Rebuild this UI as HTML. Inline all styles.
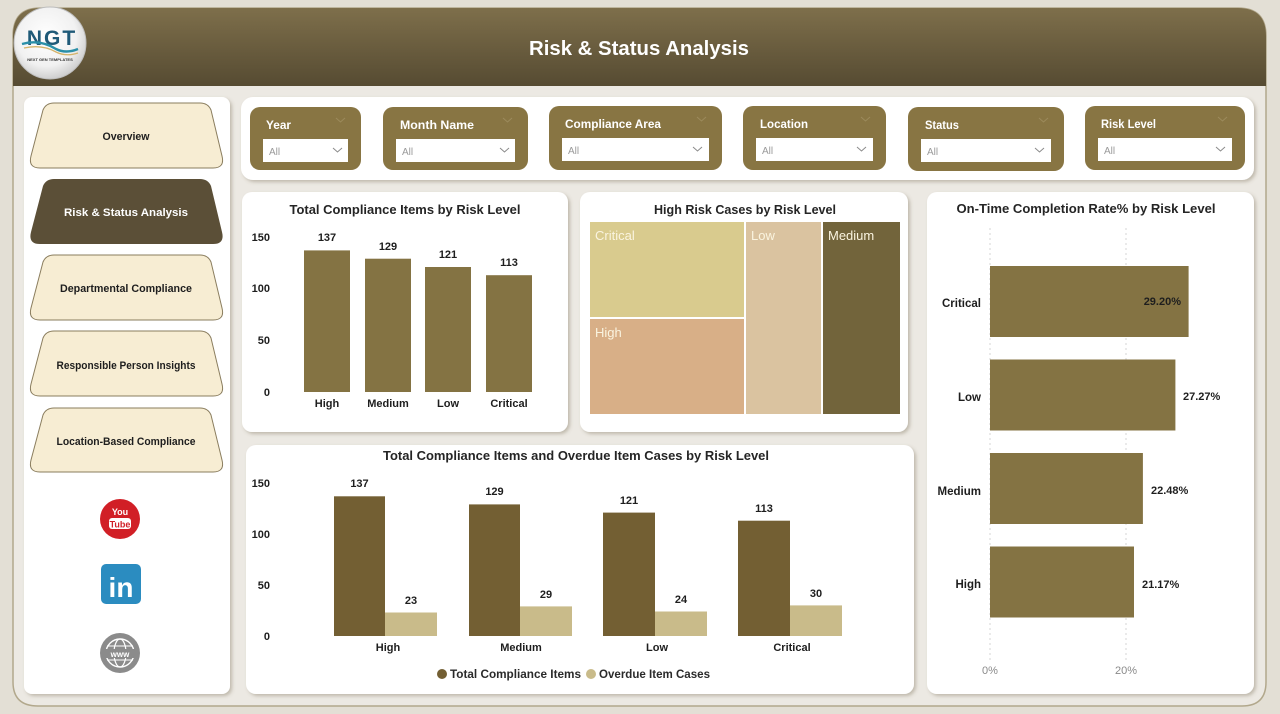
<!DOCTYPE html>
<html><head><meta charset="utf-8"><style>
html,body{margin:0;padding:0;width:1280px;height:714px;overflow:hidden;background:#e3dfd5}
svg{display:block}
text{font-family:"Liberation Sans",Arial,sans-serif}
</style></head><body>
<svg width="1280" height="714" viewBox="0 0 1280 714" xmlns="http://www.w3.org/2000/svg">
<defs>
<linearGradient id="hdr" x1="0" y1="0" x2="0" y2="1"><stop offset="0" stop-color="#7e6f4b"/><stop offset="1" stop-color="#564b32"/></linearGradient>
<radialGradient id="logo" cx="0.45" cy="0.4" r="0.6"><stop offset="0" stop-color="#ffffff"/><stop offset="0.7" stop-color="#f1f1f1"/><stop offset="1" stop-color="#cfcfcf"/></radialGradient>
<filter id="sh" x="-5%" y="-5%" width="112%" height="115%"><feDropShadow dx="2" dy="2" stdDeviation="1.8" flood-color="#6b6040" flood-opacity="0.35"/></filter>
</defs>
<rect x="0" y="0" width="1280" height="714" fill="#e3dfd5"/>
<path d="M40,8 H1238 Q1266,8 1266,36 V682 Q1266,706 1242,706 H38 Q13,706 13,682 V36 Q13,8 40,8 Z" fill="#ece9e3" stroke="#b2a88c" stroke-width="1.5"/>
<path d="M40,8 H1238 Q1266,8 1266,36 V86 H13 V36 Q13,8 40,8 Z" fill="url(#hdr)"/>
<text x="639" y="55" text-anchor="middle" font-size="20" font-weight="bold" fill="#ffffff" textLength="220" lengthAdjust="spacingAndGlyphs">Risk &amp; Status Analysis</text>

<circle cx="50" cy="43" r="36" fill="url(#logo)" stroke="#bdbdbd" stroke-width="1"/>
<text x="52" y="45" text-anchor="middle" font-size="21" font-weight="bold" fill="#1f5a78" letter-spacing="2">NGT</text>
<path d="M22,44 Q40,39 56,49 Q66,54 78,49" fill="none" stroke="#2a8fa8" stroke-width="2.4"/>
<path d="M24,48 Q42,44 56,52 Q66,57 78,53" fill="none" stroke="#d4b36a" stroke-width="1.3"/>
<text x="50" y="61" text-anchor="middle" font-size="4" font-weight="bold" fill="#333">NEXT GEN TEMPLATES</text>

<rect x="24" y="97" width="206" height="597" rx="8" fill="#ffffff" filter="url(#sh)"/>
<g font-size="11" font-weight="bold" text-anchor="middle">
<path d="M54,103 H200 Q208,103 211,110 L222,156 Q225,168 213,168 H40 Q28,168 31,156 L43,110 Q46,103 54,103 Z" fill="#f7edd3" stroke="#8a7d5e" stroke-width="1"/>
<text x="126" y="140" fill="#1e1e1e" textLength="47" lengthAdjust="spacingAndGlyphs">Overview</text>
<path d="M54,179 H200 Q208,179 211,186 L222,232 Q225,244 213,244 H40 Q28,244 31,232 L43,186 Q46,179 54,179 Z" fill="#5b4f37"/>
<text x="126" y="216" fill="#ffffff" textLength="124" lengthAdjust="spacingAndGlyphs">Risk &amp; Status Analysis</text>
<path d="M54,255 H200 Q208,255 211,262 L222,308 Q225,320 213,320 H40 Q28,320 31,308 L43,262 Q46,255 54,255 Z" fill="#f7edd3" stroke="#8a7d5e" stroke-width="1"/>
<text x="126" y="292" fill="#1e1e1e" textLength="132" lengthAdjust="spacingAndGlyphs">Departmental Compliance</text>
<path d="M54,331 H200 Q208,331 211,338 L222,384 Q225,396 213,396 H40 Q28,396 31,384 L43,338 Q46,331 54,331 Z" fill="#f7edd3" stroke="#8a7d5e" stroke-width="1"/>
<text x="126" y="369" fill="#1e1e1e" textLength="139" lengthAdjust="spacingAndGlyphs">Responsible Person Insights</text>
<path d="M54,408 H200 Q208,408 211,415 L222,460 Q225,472 213,472 H40 Q28,472 31,460 L43,415 Q46,408 54,408 Z" fill="#f7edd3" stroke="#8a7d5e" stroke-width="1"/>
<text x="126" y="445" fill="#1e1e1e" textLength="139" lengthAdjust="spacingAndGlyphs">Location-Based Compliance</text>
</g>
<circle cx="120" cy="519" r="20" fill="#d11f26"/>
<text x="120" y="515" text-anchor="middle" font-size="9" font-weight="bold" fill="#ffffff">You</text>
<rect x="109" y="518" width="22" height="11" rx="3" fill="#ffffff"/>
<text x="120" y="527.5" text-anchor="middle" font-size="9" font-weight="bold" fill="#d11f26">Tube</text>
<rect x="101" y="564" width="40" height="40" rx="5" fill="#2b8cc0"/>
<text x="121" y="597" text-anchor="middle" font-size="28" font-weight="bold" fill="#ffffff">in</text>
<circle cx="120" cy="653" r="20" fill="#8b8b8b"/>
<circle cx="120" cy="653" r="14" fill="none" stroke="#fff" stroke-width="1.4"/>
<ellipse cx="120" cy="653" rx="6" ry="14" fill="none" stroke="#fff" stroke-width="1.2"/>
<line x1="107" y1="646" x2="133" y2="646" stroke="#fff" stroke-width="1"/>
<line x1="107" y1="660" x2="133" y2="660" stroke="#fff" stroke-width="1"/>
<rect x="104" y="649" width="32" height="9" fill="#8b8b8b"/>
<text x="120" y="657" text-anchor="middle" font-size="8" font-weight="bold" fill="#ffffff">www</text>

<rect x="241" y="97" width="1013" height="83" rx="12" fill="#ffffff" filter="url(#sh)"/>
<g font-size="12" font-weight="bold">
<rect x="250" y="107" width="111" height="63" rx="10" fill="#887543"/>
<text x="266" y="129" fill="#ffffff" textLength="25" lengthAdjust="spacingAndGlyphs">Year</text>
<rect x="263" y="139" width="85" height="23" fill="#ffffff"/>
<rect x="383" y="107" width="145" height="63" rx="10" fill="#887543"/>
<text x="400" y="129" fill="#ffffff" textLength="74" lengthAdjust="spacingAndGlyphs">Month Name</text>
<rect x="396" y="139" width="119" height="23" fill="#ffffff"/>
<rect x="549" y="106" width="173" height="64" rx="10" fill="#887543"/>
<text x="565" y="128" fill="#ffffff" textLength="96" lengthAdjust="spacingAndGlyphs">Compliance Area</text>
<rect x="562" y="138" width="147" height="23" fill="#ffffff"/>
<rect x="743" y="106" width="143" height="64" rx="10" fill="#887543"/>
<text x="760" y="128" fill="#ffffff" textLength="48" lengthAdjust="spacingAndGlyphs">Location</text>
<rect x="756" y="138" width="117" height="23" fill="#ffffff"/>
<rect x="908" y="107" width="156" height="64" rx="10" fill="#887543"/>
<text x="925" y="129" fill="#ffffff" textLength="34" lengthAdjust="spacingAndGlyphs">Status</text>
<rect x="921" y="139" width="130" height="23" fill="#ffffff"/>
<rect x="1085" y="106" width="160" height="64" rx="10" fill="#887543"/>
<text x="1101" y="128" fill="#ffffff" textLength="55" lengthAdjust="spacingAndGlyphs">Risk Level</text>
<rect x="1098" y="138" width="134" height="23" fill="#ffffff"/>
</g>
<g font-size="10" fill="#9a9a9a">
<text x="269" y="155">All</text><text x="402" y="155">All</text><text x="568" y="154">All</text>
<text x="762" y="154">All</text><text x="927" y="155">All</text><text x="1104" y="154">All</text>
</g>
<g fill="none" stroke="#8a8a8a" stroke-width="1">
<polyline points="333,148 337.5,152 342,148"/><polyline points="500,148 504.5,152 509,148"/>
<polyline points="693,147 697.5,151 702,147"/><polyline points="857,147 861.5,151 866,147"/>
<polyline points="1035,148 1039.5,152 1044,148"/><polyline points="1216,147 1220.5,151 1225,147"/>
</g>
<g fill="none" stroke="#9c8a5c" stroke-width="1">
<polyline points="336,118 340.5,122 345,118"/><polyline points="503,118 507.5,122 512,118"/>
<polyline points="697,117 701.5,121 706,117"/><polyline points="861,117 865.5,121 870,117"/>
<polyline points="1039,118 1043.5,122 1048,118"/><polyline points="1218,117 1222.5,121 1227,117"/>
</g>

<rect x="242" y="192" width="326" height="240" rx="10" fill="#ffffff" filter="url(#sh)"/>
<text x="405" y="214" text-anchor="middle" font-size="12.5" font-weight="bold" fill="#252525" textLength="231" lengthAdjust="spacingAndGlyphs">Total Compliance Items by Risk Level</text>
<g font-size="11" font-weight="bold" fill="#1e1e1e" text-anchor="end">
<text x="270" y="241">150</text><text x="270" y="292">100</text><text x="270" y="344">50</text><text x="270" y="396">0</text>
</g>
<g fill="#847343">
<rect x="304" y="250.4" width="46" height="141.6"/>
<rect x="365" y="258.7" width="46" height="133.3"/>
<rect x="425" y="267" width="46" height="125"/>
<rect x="486" y="275.2" width="46" height="116.8"/>
</g>
<g font-size="11" font-weight="bold" fill="#1e1e1e" text-anchor="middle">
<text x="327" y="241">137</text><text x="388" y="250">129</text><text x="448" y="258">121</text><text x="509" y="266">113</text>
<text x="327" y="407">High</text><text x="388" y="407">Medium</text><text x="448" y="407">Low</text><text x="509" y="407">Critical</text>
</g>

<rect x="580" y="192" width="328" height="240" rx="10" fill="#ffffff" filter="url(#sh)"/>
<text x="745" y="214" text-anchor="middle" font-size="12.5" font-weight="bold" fill="#252525" textLength="182" lengthAdjust="spacingAndGlyphs">High Risk Cases by Risk Level</text>
<rect x="590" y="222" width="154" height="95" fill="#d9cb8e"/>
<rect x="590" y="319" width="154" height="95" fill="#d8af87"/>
<rect x="746" y="222" width="75" height="192" fill="#dac3a0"/>
<rect x="823" y="222" width="77" height="192" fill="#72643b"/>
<g font-size="13" fill="#faf4e0">
<text x="595" y="240">Critical</text><text x="595" y="337">High</text><text x="751" y="240">Low</text><text x="828" y="240">Medium</text>
</g>

<rect x="927" y="192" width="327" height="502" rx="10" fill="#ffffff" filter="url(#sh)"/>
<text x="1086" y="213" text-anchor="middle" font-size="12.5" font-weight="bold" fill="#252525" textLength="259" lengthAdjust="spacingAndGlyphs">On-Time Completion Rate% by Risk Level</text>
<g stroke="#d4d4d4" stroke-width="1" stroke-dasharray="2,3">
<line x1="990" y1="228" x2="990" y2="660"/><line x1="1126" y1="228" x2="1126" y2="660"/>
</g>
<g fill="#847343">
<rect x="990" y="266" width="198.6" height="71"/>
<rect x="990" y="359.5" width="185.4" height="71"/>
<rect x="990" y="453" width="152.9" height="71"/>
<rect x="990" y="546.5" width="144" height="71"/>
</g>
<g font-size="11" font-weight="bold" fill="#1e1e1e">
<text x="1181" y="305" text-anchor="end">29.20%</text>
<text x="1183" y="400">27.27%</text>
<text x="1151" y="494">22.48%</text>
<text x="1142" y="588">21.17%</text>
</g>
<g font-size="11.5" font-weight="bold" fill="#1e1e1e" text-anchor="end">
<text x="981" y="307">Critical</text><text x="981" y="401">Low</text><text x="981" y="495">Medium</text><text x="981" y="588">High</text>
</g>
<g font-size="11" fill="#8a8a8a" text-anchor="middle">
<text x="990" y="674">0%</text><text x="1126" y="674">20%</text>
</g>

<rect x="246" y="445" width="668" height="249" rx="10" fill="#ffffff" filter="url(#sh)"/>
<text x="576" y="460" text-anchor="middle" font-size="12.5" font-weight="bold" fill="#252525" textLength="386" lengthAdjust="spacingAndGlyphs">Total Compliance Items and Overdue Item Cases by Risk Level</text>
<g font-size="11" font-weight="bold" fill="#1e1e1e" text-anchor="end">
<text x="270" y="487">150</text><text x="270" y="538">100</text><text x="270" y="589">50</text><text x="270" y="640">0</text>
</g>
<g fill="#735f33">
<rect x="334" y="496.3" width="51" height="139.7"/>
<rect x="469" y="504.4" width="51" height="131.6"/>
<rect x="603" y="512.6" width="52" height="123.4"/>
<rect x="738" y="520.7" width="52" height="115.3"/>
</g>
<g fill="#c9bb8a">
<rect x="385" y="612.5" width="52" height="23.5"/>
<rect x="520" y="606.4" width="52" height="29.6"/>
<rect x="655" y="611.5" width="52" height="24.5"/>
<rect x="790" y="605.4" width="52" height="30.6"/>
</g>
<g font-size="11" font-weight="bold" fill="#1e1e1e" text-anchor="middle">
<text x="359.5" y="487">137</text><text x="411" y="604">23</text>
<text x="494.5" y="495">129</text><text x="546" y="598">29</text>
<text x="629" y="504">121</text><text x="681" y="603">24</text>
<text x="764" y="512">113</text><text x="816" y="597">30</text>
<text x="388" y="651">High</text><text x="521" y="651">Medium</text><text x="657" y="651">Low</text><text x="792" y="651">Critical</text>
</g>
<circle cx="442" cy="674" r="5" fill="#735f33"/>
<text x="450" y="678" font-size="11.5" font-weight="bold" fill="#2a2a2a" textLength="131" lengthAdjust="spacingAndGlyphs">Total Compliance Items</text>
<circle cx="591" cy="674" r="5" fill="#c9bb8a"/>
<text x="599" y="678" font-size="11.5" font-weight="bold" fill="#2a2a2a" textLength="111" lengthAdjust="spacingAndGlyphs">Overdue Item Cases</text>
</svg>
</body></html>
